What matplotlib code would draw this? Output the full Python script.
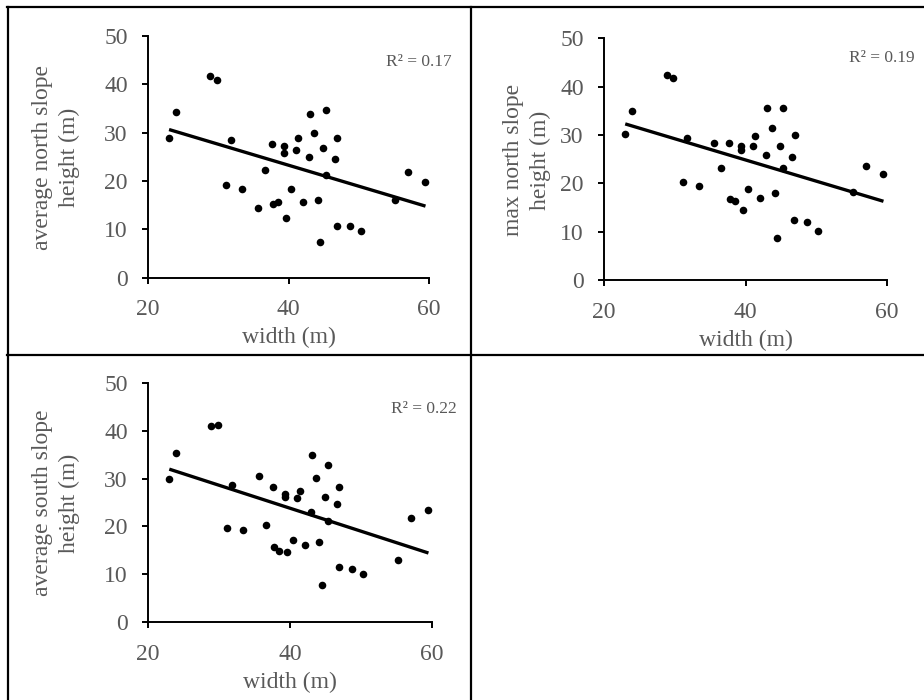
import numpy as np
import matplotlib
matplotlib.use("Agg")
import matplotlib.pyplot as plt
from matplotlib.lines import Line2D

width = [23.0, 24.0, 28.85, 29.8, 31.8, 31.15, 33.4, 35.6, 36.6, 37.65, 37.75, 38.5,
         39.3, 39.3, 39.6, 40.4, 41.0, 41.4, 42.05, 42.9, 43.05, 43.7, 44.15, 44.45,
         44.9, 45.3, 45.3, 46.6, 46.95, 46.85, 48.7, 50.25, 55.15, 57.0, 59.5]

avg_north = [28.8, 34.3, 41.7, 41.0, 28.4, 19.1, 18.4, 14.5, 22.3, 27.7, 15.3, 15.7,
             27.2, 25.7, 12.4, 18.4, 26.4, 28.8, 15.7, 24.9, 33.9, 29.9, 16.0, 7.4,
             26.8, 34.6, 21.2, 24.6, 29.0, 10.6, 10.6, 9.7, 16.1, 21.9, 19.9]

max_north = [30.2, 35.0, 42.4, 41.7, 29.3, 20.3, 19.5, 28.4, 23.25, 28.4, 16.8, 16.4,
             27.8, 26.9, 14.5, 18.9, 27.7, 29.7, 16.9, 25.8, 35.5, 31.4, 18.0, 8.6,
             27.8, 35.5, 23.25, 25.5, 30.0, 12.4, 11.9, 10.1, 18.2, 23.5, 22.0]

avg_south = [29.85, 35.4, 41.0, 41.2, 28.7, 19.7, 19.3, 30.6, 20.3, 28.2, 15.7, 14.9,
             26.8, 26.1, 14.7, 17.2, 25.95, 27.5, 16.2, 22.95, 35.0, 30.2, 16.8, 7.8,
             26.1, 32.8, 21.1, 24.6, 28.3, 11.6, 11.1, 10.1, 13.1, 21.8, 23.4]

panels = [
    ("average north slope\nheight (m)", avg_north, "R² = 0.17"),
    ("max north slope\nheight (m)", max_north, "R² = 0.19"),
    ("average south slope\nheight (m)", avg_south, "R² = 0.22"),
]

x_ticks = [20, 40, 60]
y_ticks = [0, 10, 20, 30, 40, 50]

plt.rcParams['font.family'] = ['Liberation Serif', 'DejaVu Serif']
GRAY = '#595959'

W, H = 924, 700
fig = plt.figure(figsize=(W / 100, H / 100), dpi=100)

# axes rectangles in pixels: left, right, top(y=50), bottom(y=0)
rects = [(148, 429, 36, 277.7), (604, 887, 38.3, 280), (148, 432, 382.7, 622.3)]
ylabel_pos = [(56, 157), (527, 160), (56, 503)]
r2_pos = [(452, 62), (915, 58), (457, 409)]

xs = np.array(width)
for (lab, ys, r2), (l, r, t, b), (lx, ly), (rx, ry) in zip(panels, rects, ylabel_pos, r2_pos):
    ax = fig.add_axes([l / W, 1 - b / H, (r - l) / W, (b - t) / H])
    ys = np.array(ys)
    ax.scatter(xs, ys, s=30, color='black', zorder=3, linewidths=0)
    k, c = np.polyfit(xs, ys, 1)
    xx = np.array([xs.min(), xs.max()])
    ax.plot(xx, k * xx + c, color='black', lw=2.4, solid_capstyle='butt', zorder=2)
    ax.set_xlim(20, 60)
    ax.set_ylim(0, 50)
    ax.set_xticks(x_ticks)
    ax.set_yticks(y_ticks)
    for s in ['top', 'right']:
        ax.spines[s].set_visible(False)
    for s in ['left', 'bottom']:
        ax.spines[s].set_linewidth(1.4)
        ax.spines[s].set_color('black')
    ax.tick_params(direction='out', length=4.5, width=1.4, color='black',
                   labelsize=17, labelcolor=GRAY)
    ax.tick_params(axis='x', pad=11)
    ax.tick_params(axis='y', pad=10)
    ax.patch.set_alpha(0)
    ax.set_xlabel("width (m)", fontsize=17, color=GRAY, labelpad=5)
    fig.text(lx / W, 1 - ly / H, lab, rotation=90, ha='center', va='center',
             multialignment='center', fontsize=17, color=GRAY, linespacing=1.35)
    fig.text(rx / W, 1 - ry / H, r2, ha='right', va='center', fontsize=12.5, color=GRAY)

# table borders
def hline(y, x0, x1):
    fig.add_artist(Line2D([x0 / W, x1 / W], [1 - y / H, 1 - y / H], color='black', lw=1.6))

def vline(x, y0, y1):
    fig.add_artist(Line2D([x / W, x / W], [1 - y0 / H, 1 - y1 / H], color='black', lw=1.6))

hline(7, 7, W)
hline(355, 7, W)
vline(8, 7, H)
vline(471, 7, H)

fig.savefig("out.png", dpi=100)
